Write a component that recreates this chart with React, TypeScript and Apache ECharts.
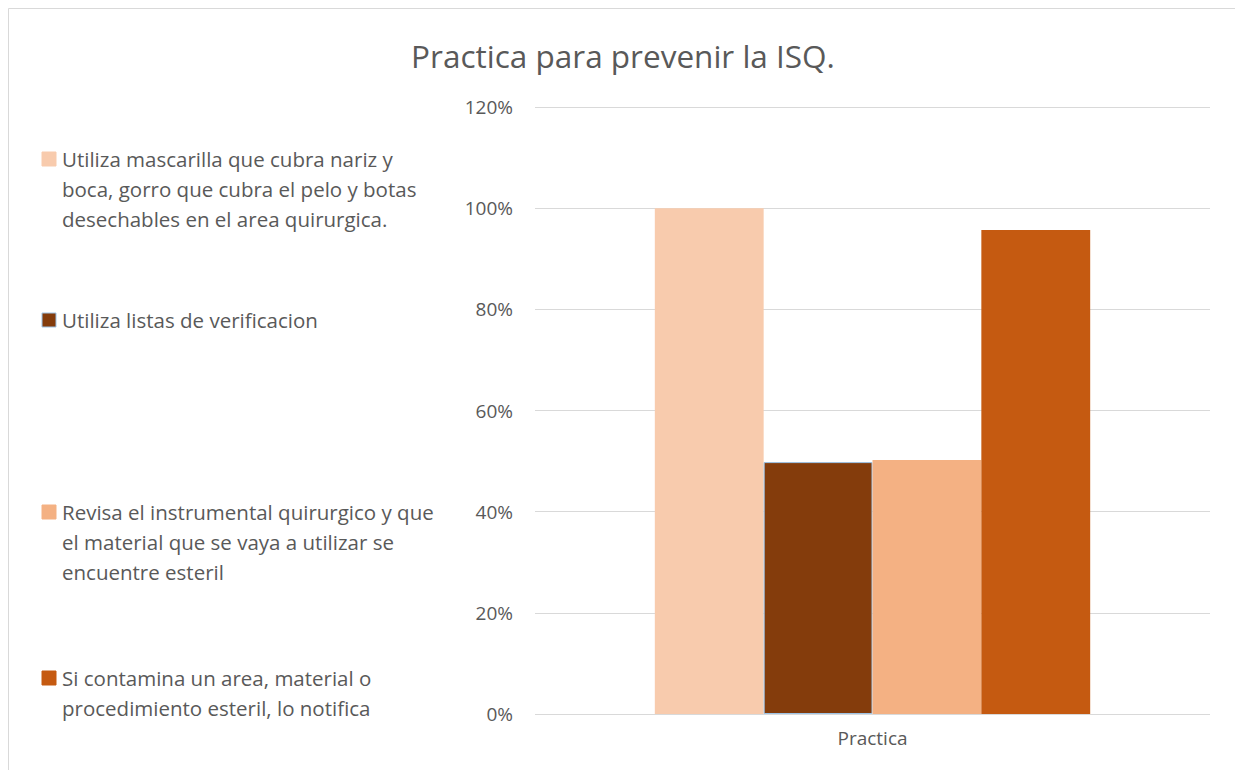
import React, { useEffect, useRef } from "react";
import * as echarts from "echarts";

const categories = ["Practica"];
const seriesNames = [
  "Utiliza mascarilla que cubra nariz y\nboca, gorro que cubra el pelo y botas\ndesechables en el area quirurgica.",
  "Utiliza listas de verificacion",
  "Revisa el instrumental quirurgico y que\nel material que se vaya a utilizar se\nencuentre esteril",
  "Si contamina un area, material o\nprocedimiento esteril, lo notifica",
];
const seriesValues = [1.0, 0.498, 0.502, 0.957];
const colors = ["#F8CBAD", "#843C0C", "#F4B183", "#C55A11"];
const yTicks = [0, 0.2, 0.4, 0.6, 0.8, 1.0, 1.2];
const legendTops = [144, 305, 497, 663];

export default function App() {
  const ref = useRef<HTMLDivElement>(null);
  useEffect(() => {
    if (!ref.current) return;
    const chart = echarts.init(ref.current, null, { renderer: "svg" });
    const font = "'Open Sans', 'Liberation Sans', sans-serif";
    const graphic: any[] = [
      {
        type: "rect",
        shape: { x: 8.5, y: 8.5, width: 1240, height: 780 },
        style: { fill: "none", stroke: "#d9d9d9", lineWidth: 1 },
        silent: true,
      },
    ];
    seriesNames.forEach((name, i) => {
      graphic.push({
        type: "rect",
        shape: { x: 42, y: legendTops[i] + 8, width: 14, height: 14 },
        style: {
          fill: colors[i],
          stroke: i === 1 ? "#9DC3E6" : colors[i],
          lineWidth: 1,
        },
      });
      graphic.push({
        type: "text",
        x: 62,
        y: legendTops[i],
        style: {
          text: name,
          font: `20.5px ${font}`,
          fill: "#595959",
          lineHeight: 30,
          textVerticalAlign: "top",
        },
      });
    });
    chart.setOption({
      animation: false,
      backgroundColor: "#ffffff",
      title: {
        text: "Practica para prevenir la ISQ.",
        left: 618,
        top: 34,
        textAlign: "center",
        textStyle: { fontFamily: font, fontSize: 31.5, fontWeight: "normal", color: "#595959" },
      },
      grid: { left: 535, right: 25, top: 107, bottom: 56, containLabel: false },
      xAxis: {
        type: "category",
        data: categories,
        axisLine: { show: false },
        axisTick: { show: false },
        axisLabel: { color: "#595959", fontFamily: font, fontSize: 19, margin: 14 },
      },
      yAxis: {
        type: "value",
        min: 0,
        max: yTicks[yTicks.length - 1],
        interval: 0.2,
        axisLine: { show: false },
        axisTick: { show: false },
        splitLine: { lineStyle: { color: "#d9d9d9", width: 1 } },
        axisLabel: {
          color: "#595959",
          fontFamily: font,
          fontSize: 19,
          margin: 22,
          formatter: (v: number) => `${Math.round(v * 100)}%`,
        },
      },
      graphic,
      series: seriesNames.map((name, i) => ({
        type: "bar",
        name,
        data: [seriesValues[i]],
        barGap: "0%",
        barCategoryGap: "35.5%",
        itemStyle: {
          color: colors[i],
          borderColor: i === 1 ? "#9DC3E6" : colors[i],
          borderWidth: i === 1 ? 1 : 0,
        },
      })),
    });
    return () => chart.dispose();
  }, []);
  return (
    <div
      ref={ref}
      style={{ position: "fixed", left: 0, top: 0, width: 1235, height: 770 }}
    />
  );
}
